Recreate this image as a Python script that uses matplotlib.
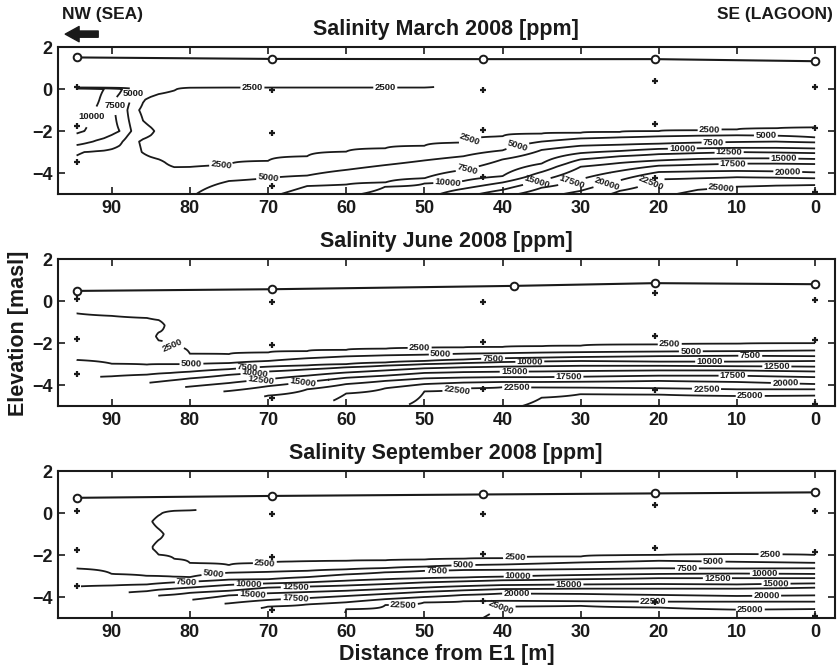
import numpy as np
import matplotlib
matplotlib.use('Agg')
import matplotlib.pyplot as plt
from matplotlib.patches import FancyArrowPatch

plt.rcParams['font.family'] = ['Liberation Sans', 'DejaVu Sans']
plt.rcParams['font.weight'] = 'bold'

INK = '#1a1a1a'
levels = [2500, 5000, 7500, 10000, 12500, 15000, 17500, 20000, 22500, 25000]

# wells (distance from E1) and sampling depths
well_x = [94.5, 69.5, 42.5, 20.5, 0.0]
sample_z = [[0.12, -1.78, -3.48], [-0.03, -2.10, -4.60], [-0.02, -1.95, -4.18],
            [0.37, -1.68, -4.22], [0.08, -1.83, -4.90]]

# water table
wt_mar_x = [94.5, 69.5, 42.5, 20.5, 0.0]
wt_mar = [1.51, 1.44, 1.43, 1.43, 1.33]
wt_jun_x = [94.5, 69.5, 38.5, 20.5, 0.0]
wt_jun = [0.49, 0.57, 0.73, 0.86, 0.81]
wt_sep_x = [94.5, 69.5, 42.5, 20.5, 0.0]
wt_sep = [0.73, 0.82, 0.89, 0.94, 0.99]

# lower limit of the sampled section (deepest points)
base_x = [0.0, 42.5, 69.5, 94.5]
base_z = [-5.1, -5.1, -4.6, -3.48]

# ---- March: elevation of each isohaline at stations, salinity at -5 m
mar_st = [0, 5, 10, 15, 20, 25, 30, 35, 40, 45, 50, 55, 60, 65, 70, 75]
mar_depth = [
    [-1.83, -2.30, -2.54, -2.83, -3.05, -3.33, -3.57, -3.97, -4.25, -4.57],
    [-1.87, -2.22, -2.50, -2.80, -3.02, -3.30, -3.55, -3.92, -4.22, -4.60],
    [-1.92, -2.20, -2.52, -2.80, -3.00, -3.30, -3.55, -3.90, -4.20, -4.65],
    [-1.96, -2.22, -2.55, -2.82, -3.05, -3.33, -3.60, -3.92, -4.25, -4.80],
    [-2.00, -2.25, -2.60, -2.85, -3.10, -3.40, -3.65, -3.95, -4.30],
    [-2.04, -2.30, -2.65, -2.95, -3.20, -3.52, -3.90, -4.35, -4.85],
    [-2.08, -2.35, -2.70, -3.05, -3.35, -3.70, -4.30, -4.85],
    [-2.12, -2.50, -2.90, -3.55, -3.95, -4.35, -4.70],
    [-2.25, -2.92, -3.35, -4.15, -4.45, -4.80],
    [-2.55, -3.20, -3.85, -4.38, -4.75],
    [-2.70, -3.40, -4.25, -4.50],
    [-2.82, -3.62, -4.45, -4.65],
    [-2.98, -3.85, -4.55],
    [-3.20, -4.12, -4.62],
    [-3.42, -4.24],
    [-3.60, -4.38],
]
mar_bottom = [27000, 26800, 26500, 25600, 24500, 23000, 20800, 19000, 16500,
              14000, 11500, 10800, 9500, 8500, 7000, 6500]
mar_rim = [1000, 1000, 1000, 1000, 1000, 1000, 1000, 1000, 1000, 1000,
           3000, 3000, 3000, 3000, 3000, 3000]

# March, sea side: salinity table (rows = elevation, columns = distance)
mar_wx = [80, 82, 84, 85, 86, 87, 88, 89, 90, 91, 92, 93, 94.5]
mar_wz = [0.1, 0.0, -0.5, -1.0, -1.5, -2.0, -2.5, -3.0, -3.5, -4.0, -4.5, -5.0]
mar_w = [
    [3000, 3000, 3000, 3000, 3000, 3000, 3000, 3000, 3000, 3000, 3000, 3000, 3000],
    [1500, 2700, 3400, 3900, 4400, 5000, 6500, 8000, 9000, 10000, 10800, 11500, 12300],
    [1000, 1200, 1500, 2000, 2700, 4200, 5600, 6800, 8000, 9300, 10500, 11200, 12000],
    [1000, 1000, 1200, 1500, 2000, 3000, 5000, 6600, 8100, 9000, 9800, 10600, 11400],
    [1000, 1000, 1300, 1800, 2500, 3800, 5300, 7000, 8200, 8900, 9500, 10100, 10850],
    [1000, 1100, 2000, 2900, 3500, 4300, 5700, 7500, 8200, 8800, 9200, 9800, 10400],
    [1000, 1100, 1500, 1900, 2200, 2800, 4200, 5500, 6300, 6900, 7300, 7800, 8700],
    [1000, 1100, 1400, 1800, 2400, 3000, 3700, 4200, 4500, 4700, 4800, 4950, 5100],
    [2000, 1800, 3000, 3300, 3500, 3700, 3800, 3900, 4000, 4200, 4400, 4600, 4800],
    [3200, 3400, 3500, 3600, 3700, 3800, 3900, 4000, 4100, 4200, 4300, 4400, 4600],
    [4100, 4000, 4000, 4000, 4100, 4100, 4200, 4200, 4300, 4300, 4400, 4400, 4500],
    [4700, 4600, 4500, 4500, 4500, 4500, 4500, 4500, 4500, 4500, 4500, 4500, 4500],
]

# ---- June
jun_st = [0, 10, 20, 30, 35, 40, 45, 50, 55, 60, 65, 70, 75]
jun_depth = [
    [-2.00, -2.35, -2.62, -2.85, -3.12, -3.35, -3.62, -3.95, -4.20, -4.50],
    [-2.03, -2.38, -2.60, -2.88, -3.10, -3.30, -3.55, -3.85, -4.20, -4.52],
    [-2.06, -2.40, -2.62, -2.88, -3.08, -3.30, -3.55, -3.80, -4.15, -4.45],
    [-2.12, -2.43, -2.66, -2.85, -3.08, -3.33, -3.60, -3.84, -4.12, -4.43],
    [-2.15, -2.45, -2.69, -2.87, -3.10, -3.35, -3.62, -3.85, -4.11, -4.60],
    [-2.18, -2.48, -2.72, -2.90, -3.12, -3.36, -3.62, -3.85, -4.10],
    [-2.20, -2.50, -2.78, -2.95, -3.15, -3.38, -3.64, -3.88, -4.15],
    [-2.23, -2.55, -2.85, -3.00, -3.20, -3.42, -3.68, -3.95, -4.30],
    [-2.27, -2.58, -2.92, -3.07, -3.30, -3.55, -3.80, -4.15],
    [-2.32, -2.63, -3.00, -3.15, -3.40, -3.65, -3.95, -4.40],
    [-2.38, -2.72, -3.06, -3.25, -3.55, -3.85, -4.20],
    [-2.45, -2.85, -3.12, -3.35, -3.72, -4.05, -4.50],
    [-2.52, -2.95, -3.24, -3.51, -3.90, -4.28, -4.65],
]
jun_bottom = [27000, 27000, 27000, 26500, 25500, 24500, 23800, 23000, 22000,
              21000, 19500, 18500, 18000]
jun_west = {
    80.0: [(0.1, 1000), (-2.51, 2500), (-3.0, 5000), (-3.36, 7500), (-3.68, 10000),
           (-4.07, 12500), (-4.45, 15000), (-5.0, 17000)],
    82.5: [(0.1, 1000), (-2.11, 2500), (-3.0, 5000), (-3.42, 7500), (-3.78, 10000),
           (-4.16, 12500), (-4.5, 15000), (-5.0, 16500)],
    84.0: [(0.1, 1000), (-0.9, 2500), (-1.15, 3200), (-1.49, 2500), (-1.68, 2200),
           (-1.87, 2500), (-2.4, 3800), (-3.0, 5000), (-3.45, 7500), (-3.84, 10000),
           (-4.22, 12500), (-5.0, 15000)],
    85.5: [(0.1, 1000), (-0.8, 2500), (-1.5, 3300), (-2.5, 4300), (-3.02, 5000),
           (-3.5, 7500), (-3.9, 10000), (-4.3, 12500), (-5.0, 14500)],
    90.0: [(0.1, 1000), (-0.7, 2500), (-2.0, 3800), (-2.98, 5000), (-3.58, 7500),
           (-4.0, 10000), (-4.4, 12500), (-5.0, 14000)],
    94.5: [(0.1, 1000), (-0.58, 2500), (-2.0, 4000), (-2.8, 5000), (-3.7, 7500),
           (-4.1, 10000), (-4.5, 12500), (-5.0, 13500)],
}

# ---- September
sep_st = [0, 10, 20, 30, 40, 45, 50, 55, 60, 65, 70, 75]
sep_depth = [
    [-2.00, -2.37, -2.63, -2.90, -3.10, -3.35, -3.55, -3.92, -4.22, -4.57],
    [-1.96, -2.32, -2.64, -2.88, -3.10, -3.40, -3.60, -3.95, -4.22, -4.60],
    [-2.00, -2.27, -2.63, -2.90, -3.10, -3.38, -3.60, -3.90, -4.22, -4.50],
    [-2.07, -2.35, -2.67, -2.95, -3.15, -3.40, -3.60, -3.85, -4.20, -4.42],
    [-2.15, -2.45, -2.70, -3.03, -3.20, -3.43, -3.62, -3.83, -4.18, -4.45],
    [-2.18, -2.48, -2.71, -3.07, -3.25, -3.48, -3.68, -3.90, -4.20],
    [-2.22, -2.55, -2.75, -3.10, -3.30, -3.55, -3.75, -4.00, -4.25],
    [-2.25, -2.62, -2.82, -3.15, -3.38, -3.62, -3.85, -4.10, -4.38],
    [-2.28, -2.68, -2.92, -3.22, -3.45, -3.70, -3.95, -4.25, -4.58],
    [-2.30, -2.75, -3.05, -3.30, -3.50, -3.76, -4.05, -4.35],
    [-2.38, -2.80, -3.15, -3.35, -3.55, -3.82, -4.14, -4.45],
    [-2.48, -2.84, -3.17, -3.42, -3.70, -3.92, -4.30, -4.60],
]
sep_bottom = [27000, 27000, 27000, 27000, 26000, 24000, 23500, 23000, 22600,
              22000, 21000, 21000]
sep_west = {
    80.0: [(0.15, 2800), (0.1, 2000), (0.0, 1000), (-2.38, 2500), (-3.05, 5000),
           (-3.27, 7500), (-3.55, 10000), (-3.8, 12500), (-4.14, 15000),
           (-4.45, 17500), (-5.0, 19500)],
    82.0: [(0.15, 3000), (0.11, 2500), (0.0, 1000), (-2.18, 2500), (-3.03, 5000),
           (-3.3, 7500), (-3.6, 10000), (-3.88, 12500), (-4.2, 15000), (-5.0, 17500)],
    84.0: [(0.15, 3500), (-0.11, 2500), (-0.4, 2000), (-0.75, 2500), (-1.0, 2900),
           (-1.28, 2500), (-1.6, 2100), (-1.98, 2500), (-2.5, 3800), (-3.0, 5000),
           (-3.35, 7500), (-3.65, 10000), (-3.93, 12500), (-5.0, 16000)],
    85.5: [(0.15, 3500), (-0.4, 2900), (-1.0, 3300), (-1.7, 2800), (-2.2, 3500),
           (-2.99, 5000), (-3.4, 7500), (-3.72, 10000), (-4.0, 12500), (-5.0, 14000)],
    90.0: [(0.15, 3800), (-1.0, 3900), (-2.0, 4300), (-2.9, 5000), (-3.45, 7500),
           (-3.85, 10000), (-5.0, 13000)],
    94.5: [(0.15, 4000), (-1.0, 4200), (-2.0, 4600), (-2.64, 5000), (-3.5, 7500),
           (-5.0, 11000)],
}

# label anchor points (layout)
mar_lab = [(92.8, -1.3), (89.5, -0.8), (87.3, -0.22), (76, -3.62), (72, 0.07), (55, 0.07),
           (70, -4.24), (44, -2.55), (38, -2.76), (44.5, -3.8), (47, -4.47), (35.5, -4.5),
           (31, -4.5), (26.5, -4.6), (21, -4.45), (12, -4.65), (13.5, -1.95), (6.3, -2.2),
           (13, -2.52), (17, -2.8), (11, -3.02), (4, -3.32), (10.5, -3.55), (3.5, -3.95)]
jun_lab = [(82.3, -2.2), (79.8, -3.0), (72.6, -3.12), (71.7, -3.38), (70.9, -3.78),
           (65.5, -4.0), (50.6, -2.24), (47.9, -2.53), (41.2, -2.74), (36.5, -2.9),
           (38.5, -3.35), (31.5, -3.6), (45.9, -4.12), (38.2, -4.55), (18.6, -2.04),
           (15.9, -2.39), (8.3, -2.6), (13.5, -2.88), (4.9, -3.12), (10.5, -3.5),
           (3.8, -3.82), (13.9, -4.2), (8.3, -4.52)]
sep_lab = [(70.4, -2.4), (77, -2.9), (80.4, -3.27), (72.5, -3.33), (66.5, -3.58),
           (72.0, -3.85), (66.5, -4.14), (52.7, -4.3), (38.4, -2.16), (45, -2.48),
           (48.4, -2.71), (38, -3.03), (31.5, -3.43), (38.2, -3.83), (40.3, -4.43),
           (20.7, -4.22), (16.4, -2.64), (13, -2.3), (5.7, -2.0), (6.5, -2.9),
           (12.5, -3.11), (5.0, -3.38), (6.2, -3.92), (8.3, -4.58)]


def layered(depth, bottom, rim, ztop):
    knots = [(ztop, rim)]
    if rim > 2500:
        knots.append((0.0, 1000))
    knots += list(zip(depth, levels))
    knots.append((-5.0, bottom))
    return knots


def field(cols, ztop, masked):
    xs = sorted(cols)
    zg = np.linspace(-5, ztop, int(round((ztop + 5) / 0.02)) + 1)
    grid = np.empty((len(zg), len(xs)))
    for j, x in enumerate(xs):
        kz = np.array([k[0] for k in cols[x]])
        ks = np.array([k[1] for k in cols[x]])
        o = np.argsort(kz)
        grid[:, j] = np.interp(zg, kz[o], ks[o])
    xf = np.linspace(0, 94.5, 379)
    fine = np.array([np.interp(xf, xs, row) for row in grid])
    if masked:
        base = np.interp(xf, base_x, base_z)
        fine = np.ma.array(fine, mask=zg[:, None] < base[None, :])
    return xf, zg, fine


mar_cols = {x: layered(d, b, r, 0.1) for x, d, b, r in zip(mar_st, mar_depth, mar_bottom, mar_rim)}
for j, x in enumerate(mar_wx):
    mar_cols[x] = [(z, mar_w[i][j]) for i, z in enumerate(mar_wz)]

jun_cols = {x: layered(d, b, 1000, 0.1) for x, d, b in zip(jun_st, jun_depth, jun_bottom)}
jun_cols.update(jun_west)

sep_cols = {x: layered(d, b, 1000, 0.15) for x, d, b in zip(sep_st, sep_depth, sep_bottom)}
sep_cols.update(sep_west)

panels = [
    ('Salinity March 2008 [ppm]', mar_cols, 0.1, False, wt_mar_x, wt_mar, mar_lab),
    ('Salinity June 2008 [ppm]', jun_cols, 0.1, True, wt_jun_x, wt_jun, jun_lab),
    ('Salinity September 2008 [ppm]', sep_cols, 0.15, True, wt_sep_x, wt_sep, sep_lab),
]

fig = plt.figure(figsize=(8.38, 6.69), dpi=100)
bottoms = [0.710, 0.393, 0.0762]

for (title, cols, ztop, masked, wx, wz, labs), b in zip(panels, bottoms):
    ax = fig.add_axes([0.069, b, 0.927, 0.2195])
    xf, zg, S = field(cols, ztop, masked)
    cs = ax.contour(xf, zg, S, levels=levels, colors=INK, linewidths=1.3)
    texts = ax.clabel(cs, levels, manual=labs, fmt='%d', fontsize=6.8, inline=True,
                      inline_spacing=2)
    for t in texts:
        r = (t.get_rotation() + 90) % 180 - 90
        if abs(r) > 50:
            t.set_rotation(0)

    ax.plot(wx, wz, '-o', color=INK, lw=1.5, ms=5.5, mfc='white', mew=1.4)
    for x, zs in zip(well_x, sample_z):
        ax.plot([x] * len(zs), zs, '+', color=INK, ms=5, mew=1.6)

    ax.set_xlim(96.9, -2.5)
    ax.set_ylim(-5, 2)
    ax.set_xticks(range(0, 91, 10))
    ax.set_yticks([-4, -2, 0, 2])
    ax.tick_params(direction='in', length=5, width=1.2, top=True, right=True,
                   labelsize=13, pad=4, colors=INK)
    for s in ax.spines.values():
        s.set_linewidth(1.5)
        s.set_color(INK)
    ax.set_title(title, fontsize=15.5, fontweight='bold', pad=9, color=INK)

fig.text(0.022, 0.502, 'Elevation [masl]', rotation=90, ha='center', va='center',
         fontsize=15.5, color=INK)
fig.text(0.533, 0.021, 'Distance from E1 [m]', ha='center', va='center',
         fontsize=15.5, color=INK)
fig.text(0.074, 0.978, 'NW (SEA)', ha='left', va='center', fontsize=12.5, color=INK)
fig.text(0.994, 0.978, 'SE (LAGOON)', ha='right', va='center', fontsize=12.5, color=INK)
fig.add_artist(FancyArrowPatch((0.1205, 0.949), (0.0745, 0.949), transform=fig.transFigure,
                               arrowstyle='simple,head_length=1.0,head_width=1.1,tail_width=0.45',
                               mutation_scale=10, color=INK))

fig.savefig('out.png', dpi=100)
